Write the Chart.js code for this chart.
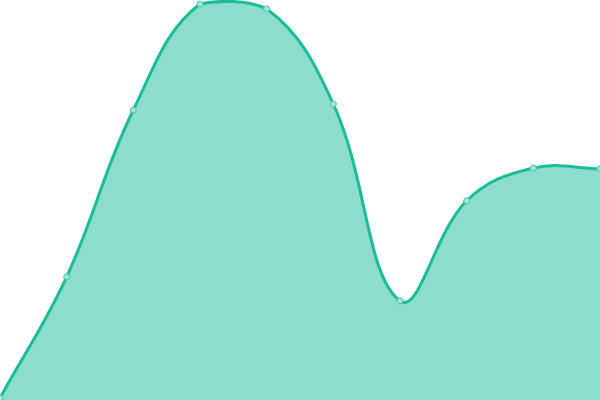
<!DOCTYPE html>
<html><head><meta charset="utf-8">
<script src="https://cdn.jsdelivr.net/npm/chart.js@4"></script>
<style>html,body{margin:0;padding:0;background:#fff}#w{width:600px;height:400px}</style>
</head><body><div id="w"><canvas id="c"></canvas></div>
<script>
const labels = ["1","2","3","4","5","6","7","8","9","10"];
const values = [0.5, 30.8, 72.5, 99, 97.8, 74, 24.8, 49.8, 58, 57.8];
new Chart(document.getElementById('c'), {
  type: 'line',
  data: { labels: labels, datasets: [{
    data: values,
    fill: true,
    backgroundColor: 'rgba(26,188,156,0.5)',
    borderColor: '#1abc9c',
    borderWidth: 3,
    tension: 0.4,
    pointRadius: 3,
    pointBackgroundColor: '#a3e6d8',
    pointBorderColor: '#48c8ad',
    pointBorderWidth: 1
  }]},
  options: {
    responsive: true, maintainAspectRatio: false, animation: false,
    layout: { padding: 0, autoPadding: false },
    plugins: { legend: { display: false }, tooltip: { enabled: false } },
    scales: {
      x: { display: false, offset: false },
      y: { display: false, min: 0, max: 100 }
    }
  }
});
</script></body></html>
